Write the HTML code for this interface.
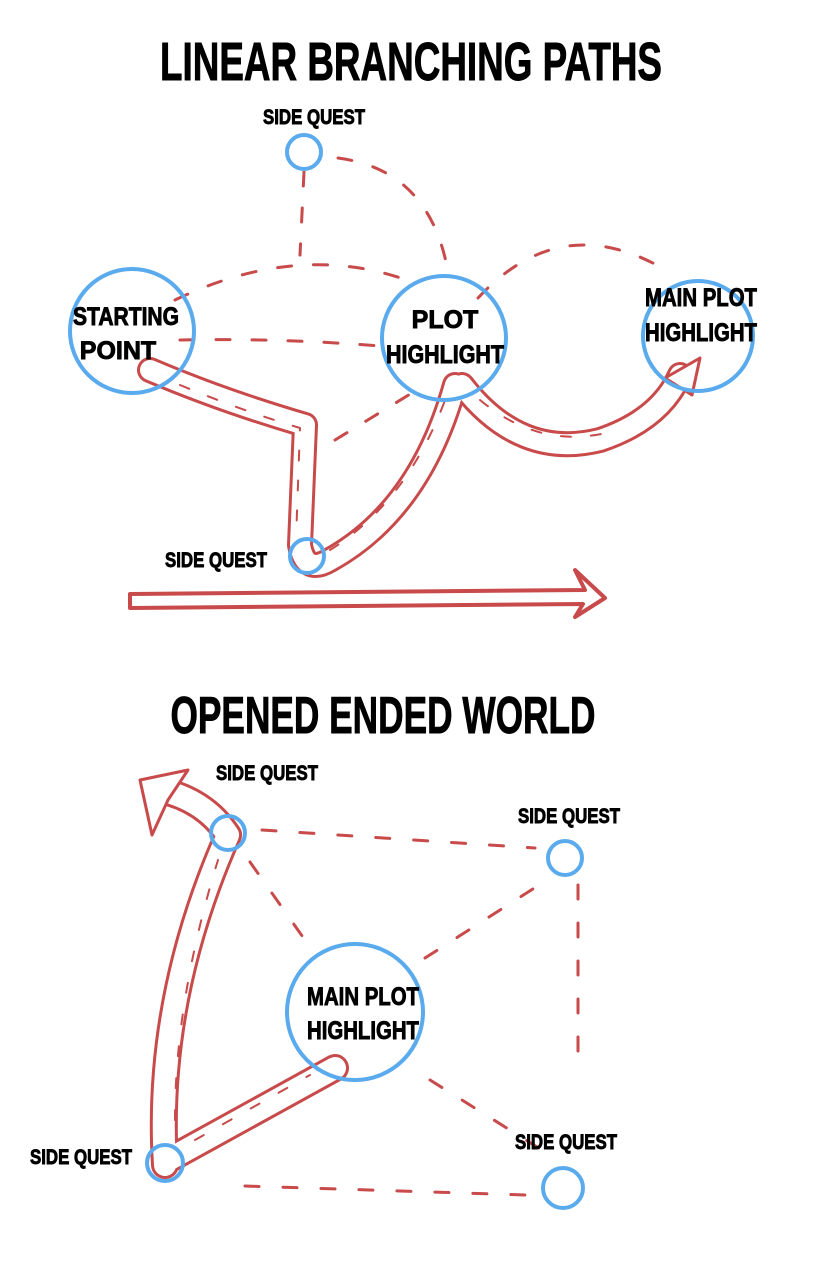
<!DOCTYPE html>
<html><head><meta charset="utf-8"><style>
html,body{margin:0;padding:0;background:#fff;}
svg{display:block}
.t{font-family:"Liberation Sans Narrow","Liberation Sans",sans-serif;font-weight:bold;fill:#000;stroke:#000;stroke-width:0.9;text-anchor:middle}
</style></head><body>
<svg width="824" height="1280" viewBox="0 0 824 1280" xmlns="http://www.w3.org/2000/svg">
<g fill="none" stroke-linecap="round" stroke-linejoin="round">
<g stroke="#c84a4a" stroke-width="3" stroke-dasharray="14 22">
<path d="M180 340 Q280 338 380 346"/>
<path d="M175 300 Q300 240 412 282"/>
<path d="M304 172 L300 255"/>
<path d="M338 158 Q430 170 448 272"/>
<path d="M478 298 Q560 210 662 268"/>
<path d="M335 440 L425 385"/>
</g>
<g stroke="#c84a4a" stroke-width="26">
<path d="M150 370 Q220 400 305 425 L300 545 Q305 575 330 560 Q420 510 455 385"/>
<path d="M462 385 Q520 460 600 440 Q660 420 680 375"/>
</g>
<g stroke="#fff" stroke-width="20">
<path d="M150 370 Q220 400 305 425 L300 545 Q305 575 330 560 Q420 510 455 385"/>
<path d="M462 385 Q520 460 600 440 Q660 420 680 375"/>
</g>
<path d="M665 378 L700 358 L692 395 Z" fill="#fff" stroke="#c84a4a" stroke-width="3"/>
<g stroke="#c84a4a" stroke-width="2" stroke-dasharray="10 20">
<path d="M180 385 Q240 410 300 428 L296 540"/>
<path d="M330 550 Q410 500 448 392"/>
<path d="M480 400 Q540 450 610 432"/>
</g>
<path d="M130 594 L585 590 L575 570 L605 598 L575 617 L583 604 L130 608 Z" fill="#fff" stroke="#c84a4a" stroke-width="4"/>
<g stroke="#5aaaee" stroke-width="4">
<circle cx="304" cy="152" r="17"/>
<circle cx="132" cy="331" r="62"/>
<circle cx="444" cy="338" r="62"/>
<circle cx="698" cy="336" r="55"/>
<circle cx="307" cy="556" r="17"/>
</g>
<g stroke="#c84a4a" stroke-width="3" stroke-dasharray="14 24">
<path d="M262 830 L535 848"/>
<path d="M250 862 L312 950"/>
<path d="M425 958 L550 878"/>
<path d="M578 885 L578 1065"/>
<path d="M430 1080 L545 1152"/>
<path d="M245 1186 L525 1195"/>
</g>
<g stroke="#c84a4a" stroke-width="28">
<path d="M165 1165 Q155 1000 228 835 Q205 800 160 790"/>
<path d="M168 1160 L335 1068"/>
</g>
<g stroke="#fff" stroke-width="22">
<path d="M165 1165 Q155 1000 228 835 Q205 800 160 790"/>
<path d="M168 1160 L335 1068"/>
</g>
<path d="M140 780 L188 770 L168 800 L152 835 Z" fill="#fff" stroke="#c84a4a" stroke-width="3"/>
<g stroke="#c84a4a" stroke-width="2" stroke-dasharray="10 22">
<path d="M175 1120 Q175 1000 218 860"/>
<path d="M195 1140 L310 1075"/>
</g>
<g stroke="#5aaaee" stroke-width="4">
<circle cx="228" cy="833" r="17"/>
<circle cx="565" cy="858" r="17"/>
<circle cx="355" cy="1012" r="68"/>
<circle cx="165" cy="1163" r="18"/>
<circle cx="563" cy="1188" r="20"/>
</g>
</g>
<text class="t" x="411" y="80" font-size="54" textLength="502" lengthAdjust="spacingAndGlyphs">LINEAR BRANCHING PATHS</text>
<text class="t" x="383" y="733" font-size="52" textLength="425" lengthAdjust="spacingAndGlyphs">OPENED ENDED WORLD</text>
<text class="t" x="314" y="124" font-size="21" textLength="102" lengthAdjust="spacingAndGlyphs">SIDE QUEST</text>
<text class="t" x="126" y="325" font-size="25" textLength="106" lengthAdjust="spacingAndGlyphs">STARTING</text>
<text class="t" x="118" y="359" font-size="25">POINT</text>
<text class="t" x="445" y="328" font-size="25">PLOT</text>
<text class="t" x="445" y="363" font-size="25" textLength="118" lengthAdjust="spacingAndGlyphs">HIGHLIGHT</text>
<text class="t" x="701" y="306" font-size="25" textLength="112" lengthAdjust="spacingAndGlyphs">MAIN PLOT</text>
<text class="t" x="701" y="341" font-size="25" textLength="112" lengthAdjust="spacingAndGlyphs">HIGHLIGHT</text>
<text class="t" x="216" y="567" font-size="21" textLength="102" lengthAdjust="spacingAndGlyphs">SIDE QUEST</text>
<text class="t" x="267" y="780" font-size="21" textLength="102" lengthAdjust="spacingAndGlyphs">SIDE QUEST</text>
<text class="t" x="569" y="823" font-size="21" textLength="102" lengthAdjust="spacingAndGlyphs">SIDE QUEST</text>
<text class="t" x="363" y="1005" font-size="25" textLength="112" lengthAdjust="spacingAndGlyphs">MAIN PLOT</text>
<text class="t" x="363" y="1039" font-size="25" textLength="112" lengthAdjust="spacingAndGlyphs">HIGHLIGHT</text>
<text class="t" x="81" y="1164" font-size="21" textLength="102" lengthAdjust="spacingAndGlyphs">SIDE QUEST</text>
<text class="t" x="566" y="1149" font-size="21" textLength="102" lengthAdjust="spacingAndGlyphs">SIDE QUEST</text>
</svg>
</body></html>
